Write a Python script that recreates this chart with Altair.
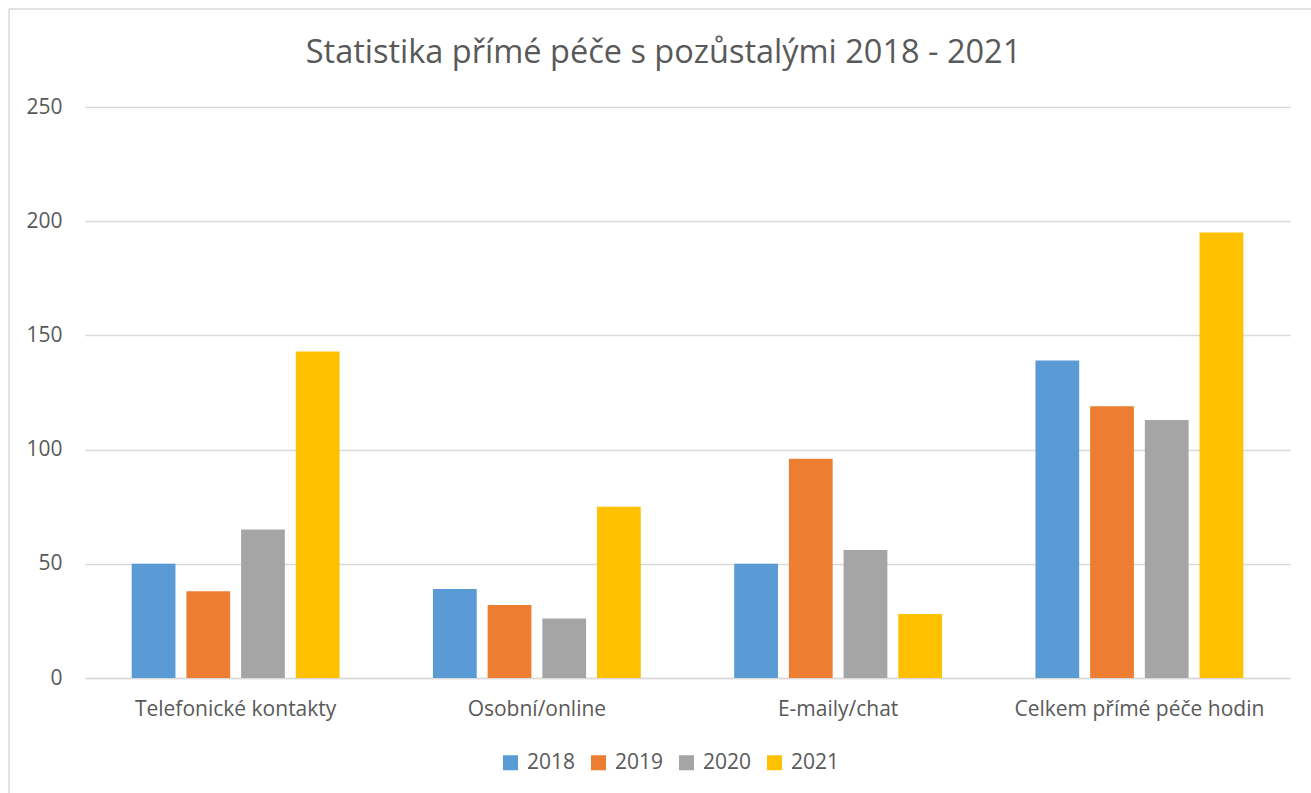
import altair as alt
import pandas as pd

categories = ["Telefonické kontakty", "Osobní/online", "E-maily/chat", "Celkem přímé péče  hodin"]
years = ["2018", "2019", "2020", "2021"]
values_2018 = [50, 39, 50, 139]
values_2019 = [38, 32, 96, 119]
values_2020 = [65, 26, 56, 113]
values_2021 = [143, 75, 28, 195]
colors = ["#5B9BD5", "#ED7D31", "#A5A5A5", "#FFC000"]
y_ticks = [0, 50, 100, 150, 200, 250]
title_text = "Statistika přímé péče s pozůstalými 2018 - 2021"

rows = []
for yr, vals in zip(years, [values_2018, values_2019, values_2020, values_2021]):
    for c, v in zip(categories, vals):
        rows.append({"category": c, "year": yr, "value": v})
df = pd.DataFrame(rows)
one = pd.DataFrame({"t": [title_text]})

FONT = "Open Sans"
TXT = "#595959"

bars = alt.Chart(df).mark_bar().encode(
    x=alt.X("category:N", sort=categories, title=None,
            scale=alt.Scale(paddingInner=0.31, paddingOuter=0.155),
            axis=alt.Axis(labelAngle=0, labelFontSize=21, labelColor=TXT, labelFont=FONT,
                          labelPadding=20, labelLimit=0, ticks=False,
                          domainColor="#D9D9D9", domainWidth=1.5)),
    xOffset=alt.XOffset("year:N", sort=years,
                        scale=alt.Scale(paddingInner=0.2, paddingOuter=0)),
    y=alt.Y("value:Q", title=None,
            scale=alt.Scale(domain=[0, 250], nice=False),
            axis=alt.Axis(values=y_ticks, labelFontSize=21, labelColor=TXT, labelFont=FONT,
                          labelPadding=23, ticks=False, domain=False,
                          gridColor="#D9D9D9", gridWidth=1.5)),
    color=alt.Color("year:N", sort=years,
                    scale=alt.Scale(domain=years, range=colors),
                    legend=alt.Legend(title=None, orient="none", direction="horizontal",
                                      legendX=415, legendY=645,
                                      symbolType="square", symbolSize=225,
                                      symbolStrokeWidth=0,
                                      labelFontSize=21, labelColor=TXT, labelFont=FONT,
                                      columnPadding=12, labelOffset=6)),
)

title = alt.Chart(one).mark_text(fontSize=32.5, font=FONT, color=TXT, align="center",
                                 baseline="middle").encode(
    text="t:N", x=alt.value(578.5), y=alt.value(-54))

frame_left = alt.Chart(one).mark_rule(color="#D9D9D9", strokeWidth=1.5).encode(
    x=alt.value(-76), y=alt.value(-98), y2=alt.value(686))
frame_top = alt.Chart(one).mark_rule(color="#D9D9D9", strokeWidth=1.5).encode(
    x=alt.value(-76), x2=alt.value(1226), y=alt.value(-98))

chart = alt.layer(bars, title, frame_left, frame_top).properties(
    width=1205, height=571,
    autosize=alt.AutoSizeParams(type="none"),
    padding={"left": 85, "top": 107, "right": 21, "bottom": 115},
).configure(background="white", view=alt.ViewConfig(strokeWidth=0, stroke="transparent"))

chart.save("out.html", embed_options={"renderer": "svg", "actions": False})
